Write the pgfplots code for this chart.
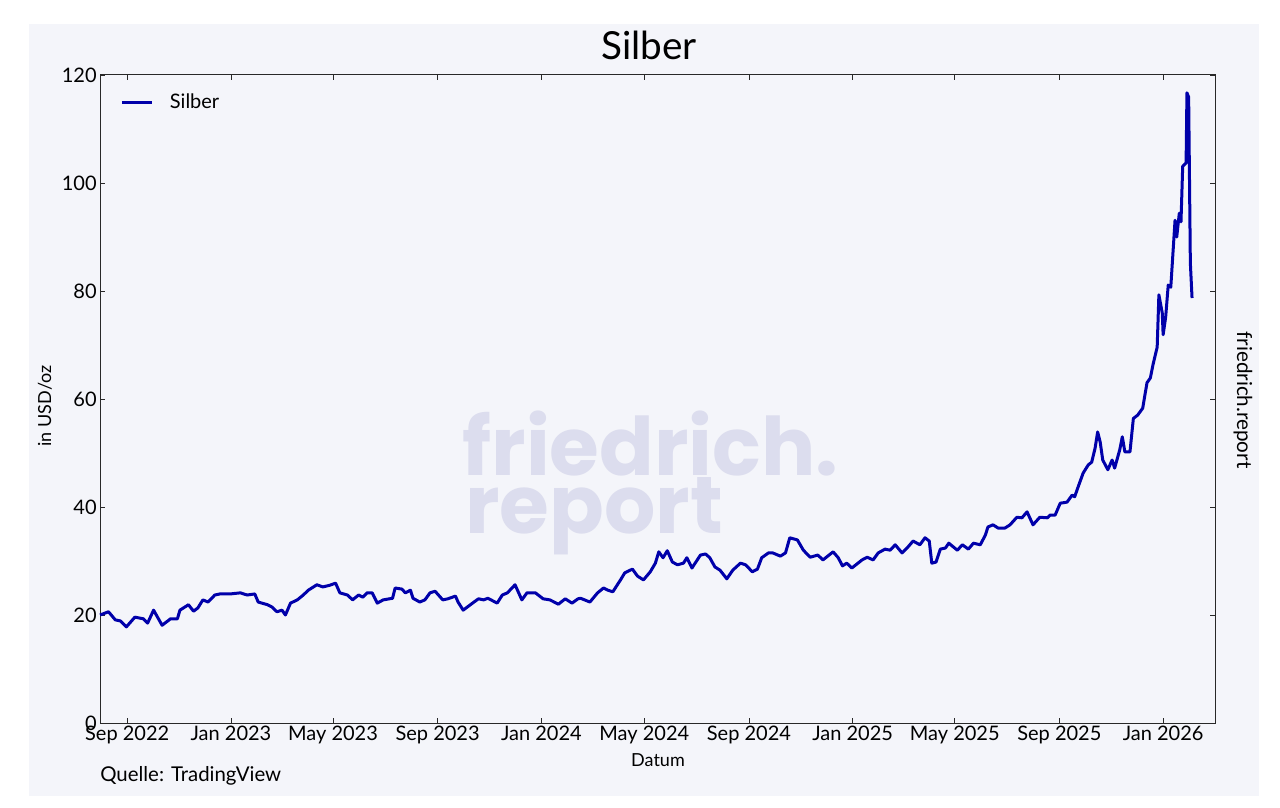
\documentclass[border=0pt]{standalone}
\usepackage{fontspec}
\setmainfont{Lato}
\newfontfamily\wmfont{Poppins}
\usepackage{pgfplots}
\usepackage{pgfplotstable}
\pgfplotsset{compat=1.18}
\definecolor{bgpanel}{RGB}{244,245,250}
\definecolor{wm}{RGB}{220,221,238}
\definecolor{silverline}{RGB}{0,0,170}
\definecolor{axisgray}{RGB}{40,40,40}

% x = days since 2022-09-01
\pgfplotstableread{
x y
-32 20.0
-22 20.6
-14 19.1
-8 18.9
-1 17.8
9 19.6
19 19.3
24 18.5
31 20.9
41 18.1
51 19.3
59 19.3
62 20.9
72 21.9
78 20.7
83 21.3
89 22.8
95 22.4
103 23.7
109 23.9
121 23.9
133 24.1
141 23.7
150 23.9
154 22.4
165 21.9
170 21.5
176 20.6
182 20.9
186 20.0
192 22.2
200 22.8
207 23.7
213 24.6
223 25.6
230 25.2
238 25.5
245 25.9
250 24.1
259 23.7
265 22.8
272 23.7
277 23.3
282 24.1
288 24.1
294 22.2
301 22.8
312 23.1
315 25.0
323 24.8
327 24.1
333 24.6
336 23.1
344 22.4
350 22.8
356 24.1
362 24.4
371 22.8
377 23.0
386 23.5
389 22.4
395 20.9
406 22.2
413 23.0
419 22.8
424 23.1
435 22.2
441 23.7
447 24.1
450 24.6
456 25.6
464 22.8
470 24.1
480 24.1
489 23.0
497 22.8
507 22.0
515 23.0
523 22.2
530 23.0
533 23.1
544 22.4
553 24.1
560 25.0
565 24.6
571 24.3
580 26.5
585 27.8
594 28.5
600 27.2
607 26.5
615 28.0
621 29.6
625 31.7
630 30.6
635 31.9
641 29.8
647 29.3
654 29.6
658 30.6
664 28.7
674 31.1
680 31.3
685 30.6
691 28.9
697 28.3
705 26.7
712 28.3
721 29.6
727 29.3
735 28.0
741 28.5
746 30.6
754 31.5
759 31.5
768 30.9
774 31.5
779 34.3
788 33.9
795 32.0
803 30.7
812 31.1
818 30.2
830 31.7
836 30.6
841 29.1
846 29.6
852 28.7
864 30.2
870 30.7
877 30.2
883 31.5
891 32.2
897 32.0
903 33.0
911 31.5
918 32.6
924 33.7
932 33.0
938 34.3
943 33.7
946 29.6
951 29.8
956 32.2
962 32.4
966 33.3
976 32.0
982 33.0
989 32.2
995 33.3
1003 33.0
1009 34.8
1012 36.3
1018 36.7
1024 36.1
1032 36.1
1038 36.7
1046 38.1
1052 38.0
1058 39.1
1065 36.7
1073 38.1
1082 38.0
1085 38.5
1091 38.5
1097 40.7
1105 40.9
1111 42.2
1114 41.9
1118 43.7
1124 46.3
1130 47.8
1134 48.3
1138 50.9
1141 53.9
1144 52.0
1147 48.7
1153 46.9
1158 48.7
1161 47.2
1167 50.6
1170 53.0
1173 50.2
1179 50.2
1183 56.4
1188 57.0
1194 58.3
1199 63.0
1203 63.9
1206 66.3
1211 69.6
1213 79.3
1217 75.9
1218 71.9
1221 75.2
1224 81.1
1227 80.7
1232 93.1
1234 90.0
1237 94.4
1239 92.8
1241 103.1
1245 103.7
1246 116.7
1248 115.9
1250 85.2
1252 78.7
}\silber

\begin{document}
\begin{tikzpicture}
\fill[white] (0,0) rectangle (960pt,605.25pt);
\fill[bgpanel] (21.75pt,8.25pt) rectangle (944.25pt,587.25pt);

\node[font=\fontsize{29}{29}\selectfont] at (486.75pt,571.5pt) {Silber};

\begin{axis}[
  scale only axis,
  width=836.25pt, height=486pt,
  at={(75pt,63pt)}, anchor=south west,
  xmin=-32, xmax=1279, ymin=0, ymax=120,
  xtick={0,122,242,365,487,608,731,853,973,1096,1218},
  xticklabels={Sep 2022,Jan 2023,May 2023,Sep 2023,Jan 2024,May 2024,Sep 2024,Jan 2025,May 2025,Sep 2025,Jan 2026},
  ytick={0,20,40,60,80,100,120},
  tick align=inside,
  major tick length=3.75pt,
  axis line style={axisgray, line width=0.75pt},
  every tick/.style={axisgray, line width=0.6pt},
  ticklabel style={font=\fontsize{15}{15}\selectfont},
  /pgf/number format/assume math mode=true,
  xticklabel style={yshift=1pt},
  yticklabel style={xshift=1pt},
  legend style={draw=none, fill=none, at={(0,1)}, anchor=north west,
    xshift=12pt, yshift=-10pt, font=\fontsize{15}{15}\selectfont},
  legend cell align=left,
  legend image code/.code={\draw[line width=2.25pt] (0pt,0pt) -- (22.5pt,0pt);\path (33pt,0pt);},
  clip=false,
]
\node[anchor=base west, font=\wmfont\bfseries\fontsize{60.5}{60.5}\selectfont, text=wm, inner sep=0pt]
  at (axis cs:{(462-127)/0.8506},{(723-475)/5.4}) {friedrich.};
\node[anchor=base west, font=\wmfont\bfseries\fontsize{60.5}{60.5}\selectfont, text=wm, inner sep=0pt]
  at (axis cs:{(465-127)/0.8506},{(723-533)/5.4}) {report};
\addplot[silverline, line width=2.25pt, line join=round] table[x=x,y=y] {\silber};
\addlegendentry{Silber}
\end{axis}

\node[rotate=90, font=\fontsize{13.5}{13.5}\selectfont] at (33.75pt,300.75pt) {in USD/oz};
\node[font=\fontsize{13.5}{13.5}\selectfont] at (493.5pt,35.25pt) {Datum};
\node[anchor=west, inner sep=0pt, font=\fontsize{15.3}{15.3}\selectfont] at (75pt,23.25pt) {Quelle: TradingView};
\node[rotate=-90, font=\fontsize{15.5}{15.5}\selectfont] at (932.25pt,305.25pt) {friedrich.report};
\end{tikzpicture}
\end{document}
